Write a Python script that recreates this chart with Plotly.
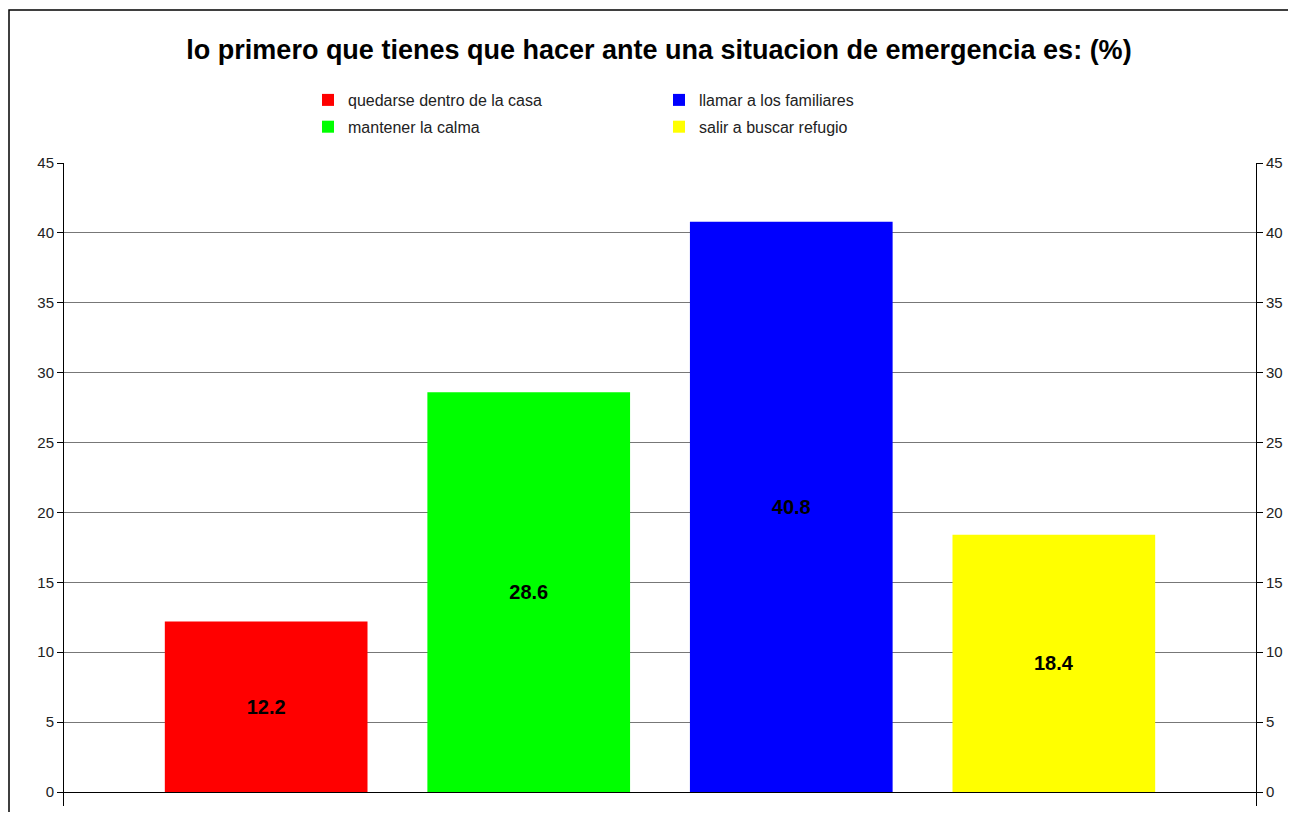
import plotly.graph_objects as go

categories = ["quedarse dentro de la casa", "mantener la calma", "llamar a los familiares", "salir a buscar refugio"]
values = [12.2, 28.6, 40.8, 18.4]
colors = ["#FF0000", "#00FF00", "#0000FF", "#FFFF00"]
legend_ids = ["legend", "legend", "legend2", "legend2"]
tick_values = [0, 5, 10, 15, 20, 25, 30, 35, 40, 45]
title_text = "lo primero que tienes que hacer ante una situacion de emergencia es: (%)"

FONT = "Liberation Sans, Arial, sans-serif"

# page body has an 8px margin, figure sized to fit the 1304x832 window
W, H = 1280, 804
ML, MR, MT, MB = 56, 32, 155, 6
PW = W - ML - MR
PH = H - MT - MB

fig = go.Figure()
for i, (cat, val, col, lg) in enumerate(zip(categories, values, colors, legend_ids)):
    fig.add_trace(go.Bar(
        x=[i], y=[val], name=cat, marker=dict(color=col, line=dict(width=0)),
        width=0.772, text=[f"{val:.1f}"], textposition="inside",
        insidetextanchor="middle", textangle=0,
        textfont=dict(family=FONT, size=20, color="black", weight="bold"),
        legend=lg, legendgroup=cat,
    ))
# invisible trace to anchor right axis
fig.add_trace(go.Scatter(x=[0], y=[0], yaxis="y2", mode="markers",
                         marker=dict(opacity=0), showlegend=False, hoverinfo="skip"))

tickfont = dict(family=FONT, size=15, color="#222222")
legfont = dict(family=FONT, size=16, color="#222222")

x_left = (1 - ML) / PW
x_right = (W + 5 - ML) / PW
y_top = 1 + (MT - 2) / PH
y_bot = -(MB + 5) / PH
border_path = f"M {x_left},{y_bot} L {x_left},{y_top} L {x_right},{y_top}"

fig.update_layout(
    width=W, height=H,
    margin=dict(l=ML, r=MR, t=MT, b=MB),
    paper_bgcolor="white", plot_bgcolor="white",
    barmode="overlay",
    title=dict(text=title_text, x=(659 - 8) / W, xanchor="center", y=1 - 42 / H, yanchor="middle",
               font=dict(family=FONT, size=27, color="black", weight="bold")),
    xaxis=dict(range=[-0.77, 3.77], showticklabels=False, showgrid=False, zeroline=False,
               showline=False, ticks=""),
    yaxis=dict(range=[-1, 45], tickvals=tick_values, showgrid=True, gridcolor="#777777",
               gridwidth=1, zeroline=True, zerolinecolor="black", zerolinewidth=1,
               showline=True, linecolor="black", linewidth=1, ticks="outside", ticklen=6,
               tickcolor="black", tickfont=tickfont),
    yaxis2=dict(range=[-1, 45], tickvals=tick_values, overlaying="y", side="right",
                showgrid=False, zeroline=False, showline=True, linecolor="black", linewidth=1,
                ticks="outside", ticklen=6, tickcolor="black", tickfont=tickfont),
    legend=dict(x=(300 - ML) / PW, xanchor="left", y=1 + (MT - 75) / PH, yanchor="top",
                orientation="v", font=legfont, tracegroupgap=3, bgcolor="rgba(0,0,0,0)"),
    legend2=dict(x=(651 - ML) / PW, xanchor="left", y=1 + (MT - 75) / PH, yanchor="top",
                 orientation="v", font=legfont, tracegroupgap=3, bgcolor="rgba(0,0,0,0)"),
    shapes=[dict(type="path", xref="paper", yref="paper", path=border_path,
                 line=dict(color="black", width=1.5), layer="below")],
    showlegend=True,
)

fig.write_html("out.html")
